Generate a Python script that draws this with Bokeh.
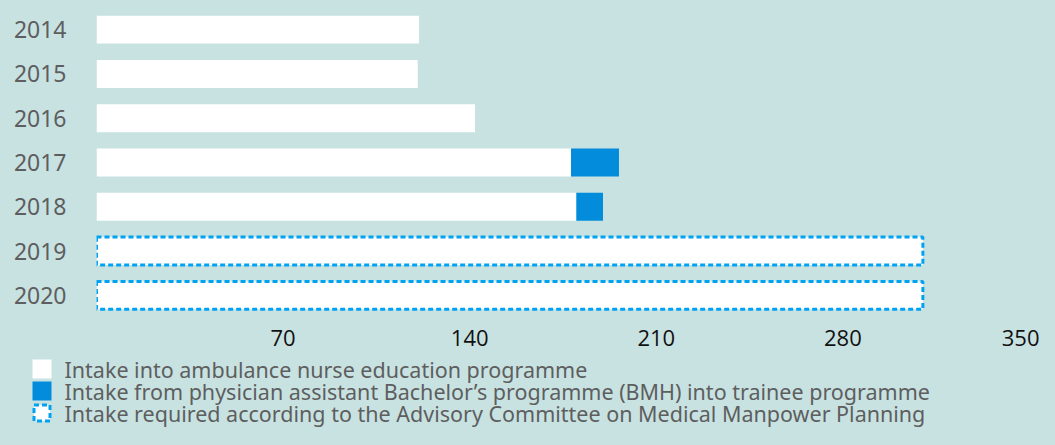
from bokeh.plotting import figure
from bokeh.models import Range1d, FactorRange, FixedTicker, ColumnDataSource
from bokeh.core.properties import value
from bokeh.embed import file_html
from bokeh.resources import INLINE

years = ["2014", "2015", "2016", "2017", "2018", "2019", "2020"]
nurse_intake = [121, 120.5, 142, 178, 180, 0, 0]
bmh_intake = [0, 0, 0, 18, 10, 0, 0]
req_years = ["2019", "2020"]
required_intake = [310, 310]
tick_values = [70, 140, 210, 280, 350]

legend_labels = [
    "Intake into ambulance nurse education programme",
    "Intake from physician assistant Bachelor\u2019s programme (BMH) into trainee programme",
    "Intake required according to the Advisory Committee on Medical Manpower Planning",
]

BG = "#c8e2e2"
BLUE = "#028cdb"
DOT = "#00a2f2"
GREY = "#5e5e5e"

W = 1039
H_MAIN = 353
H_LEG = 429 - H_MAIN

bar_years = [y for y, v in zip(years, nurse_intake) if v > 0]
bar_nurse = [v for v in nurse_intake if v > 0]
bar_bmh = [b for v, b in zip(nurse_intake, bmh_intake) if v > 0]
bar_total = [v + b for v, b in zip(bar_nurse, bar_bmh)]

src = ColumnDataSource(dict(y=bar_years, nurse=bar_nurse, total=bar_total))
req_src = ColumnDataSource(dict(y=req_years, right=required_intake))

p = figure(
    width=W, height=H_MAIN,
    x_range=Range1d(0, 350),
    y_range=FactorRange(factors=list(reversed(years)), range_padding=0),
    output_backend="svg", toolbar_location=None, title=None,
    min_border_left=96, min_border_right=10, min_border_top=7, min_border_bottom=36,
)
p.background_fill_color = BG
p.border_fill_color = BG
p.outline_line_color = None
p.grid.visible = False

BH = 0.63
p.hbar(y="y", left=0, right="right", height=BH, source=req_src,
       fill_color="white", line_color=DOT, line_width=3, line_dash="5 3")
p.hbar(y="y", left=0, right="nurse", height=BH, source=src,
       fill_color="white", line_color=None)
p.hbar(y="y", left="nurse", right="total", height=BH, source=src,
       fill_color=BLUE, line_color=None)

xa = p.xaxis[0]
xa.ticker = FixedTicker(ticks=tick_values)
xa.axis_line_color = None
xa.major_tick_line_color = None
xa.major_tick_out = 0
xa.major_tick_in = 0
xa.minor_tick_line_color = None
xa.major_label_standoff = 12
xa.major_label_text_font = "Open Sans"
xa.major_label_text_font_size = "22px"
xa.major_label_text_color = "#111111"

ya = p.yaxis[0]
ya.axis_line_color = None
ya.major_tick_line_color = None
ya.major_tick_out = 0
ya.major_tick_in = 0
ya.minor_tick_line_color = None
ya.major_label_standoff = 30
ya.major_label_text_font = "Noto Sans"
ya.major_label_text_font_size = "23px"
ya.major_label_text_color = GREY

# Key strip below the chart, in pixel units
leg = figure(
    width=W, height=H_LEG,
    x_range=Range1d(0, W), y_range=Range1d(H_LEG, 0),
    output_backend="svg", toolbar_location=None, title=None,
    x_axis_location=None, y_axis_location=None,
    min_border=0,
)
leg.background_fill_color = BG
leg.border_fill_color = BG
leg.outline_line_color = None
leg.grid.visible = False

KEY = 19
ROW = 22
TOP = 6
key_x = [32 + KEY / 2] * 3
key_y = [TOP + KEY / 2 + i * ROW for i in range(3)]
leg.rect(x=key_x[:2], y=key_y[:2], width=KEY, height=KEY,
         fill_color=["white", BLUE], line_color=None)
leg.rect(x=key_x[2:], y=key_y[2:], width=KEY - 3, height=KEY - 3,
         fill_color="white", line_color=DOT, line_width=3, line_dash="5 3")
leg.text(x=[64] * 3, y=key_y, text=legend_labels,
         text_baseline="middle", text_align="left",
         text_font=value("Noto Sans"), text_font_size="21.5px", text_color=GREY)

html = file_html([p, leg], INLINE)
html = html.replace("<head>", "<head><style>body{background:%s;}</style>" % BG, 1)
open("out.html", "w").write(html)
